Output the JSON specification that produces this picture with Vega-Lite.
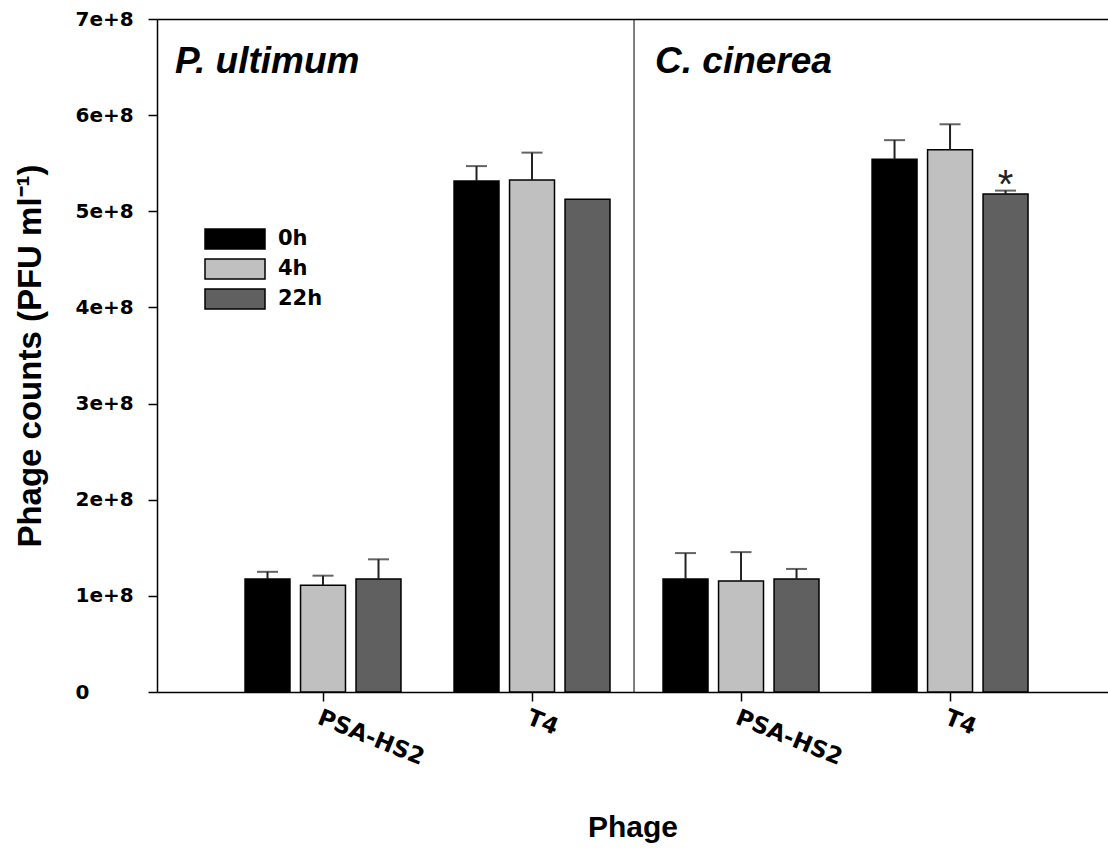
{
  "$schema": "https://vega.github.io/schema/vega-lite/v6.json",
  "autosize": "none",
  "width": 951,
  "height": 673,
  "padding": {"left": 157, "top": 19, "right": 0, "bottom": 156},
  "config": {
    "font": "Liberation Sans",
    "view": {"stroke": null},
    "axis": {"domainColor": "#000", "domainWidth": 1.5, "tickColor": "#000", "tickWidth": 1.5, "labelColor": "#000", "titleColor": "#000", "grid": false, "labelFont": "DejaVu Sans", "titleFont": "Liberation Sans"},
    "axisLeft": {"labelFont": "DejaVu Sans", "labelFontSize": 20, "labelFontWeight": "bold", "labelAlign": "left", "labelPadding": 73, "tickSize": 9, "titleFontSize": 33, "titleFontWeight": "bold", "titlePadding": 28}
  },
  "datasets": {
    "bars": [
      {"g": "P. ultimum|PSA-HS2", "time": "0h", "value": 117500000, "upper": 125000000, "note": ""},
      {"g": "P. ultimum|PSA-HS2", "time": "4h", "value": 111000000, "upper": 121000000, "note": ""},
      {"g": "P. ultimum|PSA-HS2", "time": "22h", "value": 117500000, "upper": 138000000, "note": ""},
      {"g": "P. ultimum|T4", "time": "0h", "value": 531500000, "upper": 547000000, "note": ""},
      {"g": "P. ultimum|T4", "time": "4h", "value": 532500000, "upper": 561000000, "note": ""},
      {"g": "P. ultimum|T4", "time": "22h", "value": 512500000, "upper": null, "note": ""},
      {"g": "C. cinerea|PSA-HS2", "time": "0h", "value": 117500000, "upper": 144500000, "note": ""},
      {"g": "C. cinerea|PSA-HS2", "time": "4h", "value": 115500000, "upper": 145500000, "note": ""},
      {"g": "C. cinerea|PSA-HS2", "time": "22h", "value": 117500000, "upper": 128000000, "note": ""},
      {"g": "C. cinerea|T4", "time": "0h", "value": 554000000, "upper": 574000000, "note": ""},
      {"g": "C. cinerea|T4", "time": "4h", "value": 564000000, "upper": 590500000, "note": ""},
      {"g": "C. cinerea|T4", "time": "22h", "value": 518000000, "upper": 521500000, "note": "*"}
    ],
    "panels": [
      {"pos": 0.019, "y": 644000000, "label": "P. ultimum"},
      {"pos": 0.5237, "y": 644000000, "label": "C. cinerea"}
    ],
    "divider": [
      {"pos": 0.5016, "y0": 0, "y1": 700000000}
    ]
  },
  "layer": [
    {
      "data": {"name": "bars"},
      "encoding": {
        "x": {
          "field": "g", "type": "nominal", "sort": null,
          "scale": {"paddingInner": 0, "paddingOuter": 0.275, "align": 0.535},
          "axis": {
            "title": "Phage", "titleFontSize": 30, "titleFontWeight": "bold", "titlePadding": 43,
            "labelExpr": "split(datum.label, '|')[1]",
            "labelAngle": 22, "labelAlign": "left", "labelBaseline": "top",
            "labelFontSize": 23, "labelFontWeight": "bold", "labelPadding": 5,
            "tickSize": 9
          }
        },
        "xOffset": {
          "field": "time", "type": "nominal", "sort": ["0h", "4h", "22h"],
          "scale": {"paddingInner": 0.19, "paddingOuter": 0.478}
        }
      },
      "layer": [
        {
          "mark": {"type": "bar", "stroke": "#000", "strokeWidth": 1.5, "opacity": 1},
          "encoding": {
            "y": {
              "field": "value", "type": "quantitative",
              "scale": {"domain": [0, 700000000], "nice": false},
              "axis": {"title": "Phage counts (PFU ml⁻¹)", "values": [0, 100000000, 200000000, 300000000, 400000000, 500000000, 600000000, 700000000], "labelExpr": "datum.value == 0 ? '0' : round(datum.value / 100000000) + 'e+8'", "labelFont": "DejaVu Sans", "labelFontSize": 20, "labelFontWeight": "bold", "labelAlign": "left", "labelPadding": 73, "tickSize": 9, "titleFontSize": 33, "titleFontWeight": "bold", "titlePadding": 28}
            },
            "color": {
              "field": "time", "type": "nominal",
              "scale": {"domain": ["0h", "4h", "22h"], "range": ["#000000", "#c0c0c0", "#606060"]},
              "legend": {
                "title": null, "orient": "none", "legendX": 67, "legendY": 209,
                "symbolType": "M-3,-1H3V1H-3Z", "symbolSize": 400,
                "symbolStrokeColor": "#000", "symbolStrokeWidth": 1.5, "symbolOpacity": 1,
                "labelFont": "DejaVu Sans", "labelFontSize": 21, "labelFontWeight": "bold", "labelColor": "#000", "labelOffset": 32,
                "rowPadding": 4, "padding": 0
              }
            }
          }
        },
        {
          "mark": {"type": "rule", "color": "#222", "strokeWidth": 2},
          "encoding": {
            "y": {"field": "value", "type": "quantitative",
              "axis": {"title": "Phage counts (PFU ml⁻¹)", "values": [0, 100000000, 200000000, 300000000, 400000000, 500000000, 600000000, 700000000], "labelExpr": "datum.value == 0 ? '0' : round(datum.value / 100000000) + 'e+8'", "labelFont": "DejaVu Sans", "labelFontSize": 20, "labelFontWeight": "bold", "labelAlign": "left", "labelPadding": 73, "tickSize": 9, "titleFontSize": 33, "titleFontWeight": "bold", "titlePadding": 28}},
            "y2": {"field": "upper"}
          }
        },
        {
          "mark": {"type": "tick", "color": "#222", "thickness": 2, "size": 21, "orient": "horizontal"},
          "encoding": {
            "y": {"field": "upper", "type": "quantitative",
              "axis": {"title": "Phage counts (PFU ml⁻¹)", "values": [0, 100000000, 200000000, 300000000, 400000000, 500000000, 600000000, 700000000], "labelExpr": "datum.value == 0 ? '0' : round(datum.value / 100000000) + 'e+8'", "labelFont": "DejaVu Sans", "labelFontSize": 20, "labelFontWeight": "bold", "labelAlign": "left", "labelPadding": 73, "tickSize": 9, "titleFontSize": 33, "titleFontWeight": "bold", "titlePadding": 28}}
          }
        },
        {
          "transform": [{"filter": "datum.note != ''"}],
          "mark": {"type": "text", "fontSize": 40, "baseline": "alphabetic", "dy": 7, "color": "#222"},
          "encoding": {
            "y": {"field": "upper", "type": "quantitative",
              "axis": {"title": "Phage counts (PFU ml⁻¹)", "values": [0, 100000000, 200000000, 300000000, 400000000, 500000000, 600000000, 700000000], "labelExpr": "datum.value == 0 ? '0' : round(datum.value / 100000000) + 'e+8'", "labelFont": "DejaVu Sans", "labelFontSize": 20, "labelFontWeight": "bold", "labelAlign": "left", "labelPadding": 73, "tickSize": 9, "titleFontSize": 33, "titleFontWeight": "bold", "titlePadding": 28}},
            "text": {"field": "note"}
          }
        }
      ]
    },
    {
      "layer": [
        {
          "data": {"name": "divider"},
          "mark": {"type": "rule", "color": "#000", "strokeWidth": 1},
          "encoding": {
            "x": {"field": "pos", "type": "quantitative", "scale": {"domain": [0, 1], "nice": false}, "axis": {"orient": "top", "title": null, "labels": false, "ticks": false, "domain": true}},
            "y": {"field": "y0", "type": "quantitative",
              "axis": {"title": "Phage counts (PFU ml⁻¹)", "values": [0, 100000000, 200000000, 300000000, 400000000, 500000000, 600000000, 700000000], "labelExpr": "datum.value == 0 ? '0' : round(datum.value / 100000000) + 'e+8'", "labelFont": "DejaVu Sans", "labelFontSize": 20, "labelFontWeight": "bold", "labelAlign": "left", "labelPadding": 73, "tickSize": 9, "titleFontSize": 33, "titleFontWeight": "bold", "titlePadding": 28}},
            "y2": {"field": "y1"}
          }
        },
        {
          "data": {"name": "panels"},
          "mark": {"type": "text", "fontSize": 37, "fontWeight": "bold", "fontStyle": "italic", "align": "left", "baseline": "alphabetic", "color": "#000"},
          "encoding": {
            "x": {"field": "pos", "type": "quantitative"},
            "y": {"field": "y", "type": "quantitative",
              "axis": {"title": "Phage counts (PFU ml⁻¹)", "values": [0, 100000000, 200000000, 300000000, 400000000, 500000000, 600000000, 700000000], "labelExpr": "datum.value == 0 ? '0' : round(datum.value / 100000000) + 'e+8'", "labelFont": "DejaVu Sans", "labelFontSize": 20, "labelFontWeight": "bold", "labelAlign": "left", "labelPadding": 73, "tickSize": 9, "titleFontSize": 33, "titleFontWeight": "bold", "titlePadding": 28}},
            "text": {"field": "label"}
          }
        }
      ]
    }
  ],
  "resolve": {"scale": {"x": "independent"}}
}
